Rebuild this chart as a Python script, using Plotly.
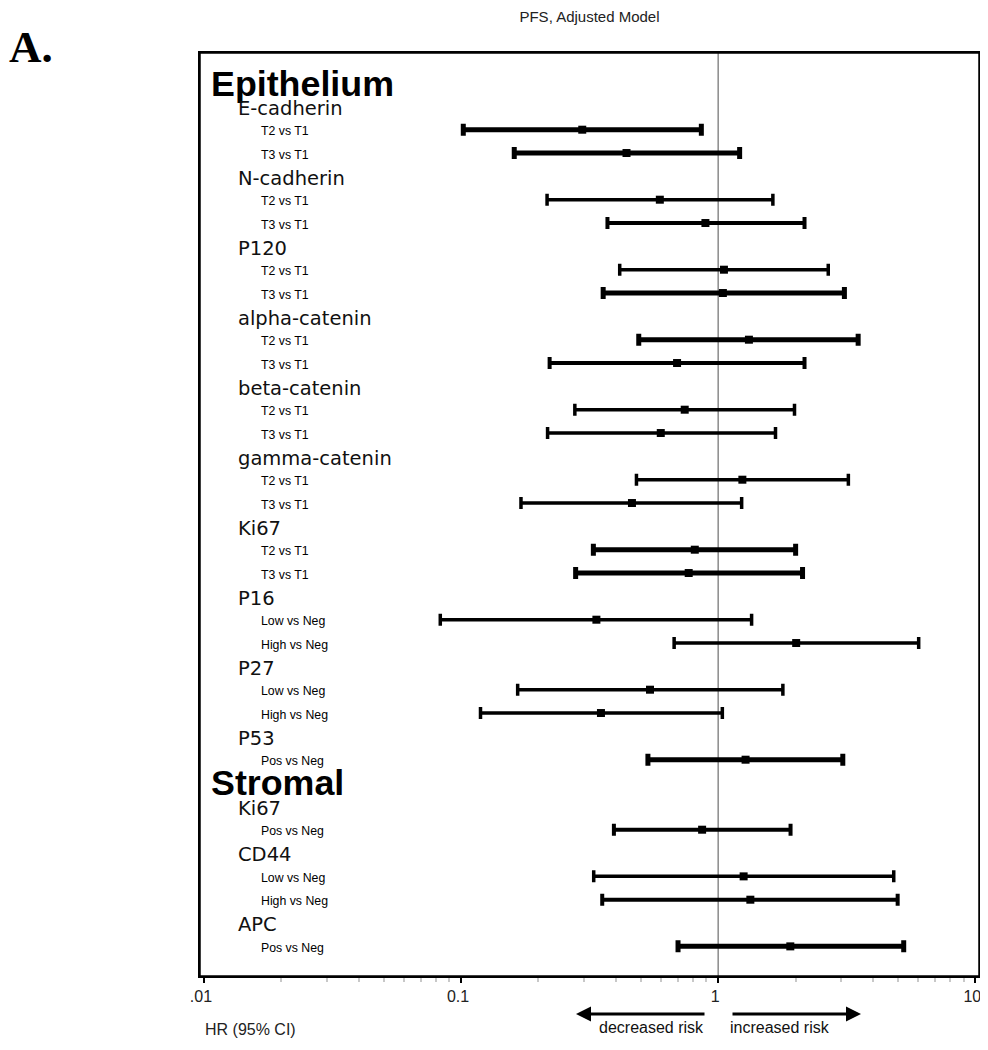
import plotly.graph_objects as go

# ---------------- data ----------------
sections = ["Epithelium"] * 19 + ["Stromal"] * 4
markers = ["E-cadherin", "E-cadherin", "N-cadherin", "N-cadherin", "P120", "P120",
           "alpha-catenin", "alpha-catenin", "beta-catenin", "beta-catenin",
           "gamma-catenin", "gamma-catenin", "Ki67", "Ki67", "P16", "P16",
           "P27", "P27", "P53", "Ki67", "CD44", "CD44", "APC"]
comparisons = ["T2 vs T1", "T3 vs T1"] * 7 + ["Low vs Neg", "High vs Neg"] * 2 + \
              ["Pos vs Neg", "Pos vs Neg", "Low vs Neg", "High vs Neg", "Pos vs Neg"]
hr = [0.296, 0.440, 0.593, 0.892, 1.053, 1.043, 1.317, 0.692, 0.741, 0.598, 1.242, 0.462,
      0.811, 0.768, 0.336, 2.011, 0.543, 0.350, 1.278, 0.866, 1.256, 1.334, 1.908]
ci_low = [0.102, 0.161, 0.216, 0.371, 0.414, 0.357, 0.491, 0.221, 0.277, 0.217, 0.481, 0.171,
          0.327, 0.279, 0.083, 0.674, 0.166, 0.119, 0.533, 0.393, 0.328, 0.354, 0.698]
ci_high = [0.860, 1.212, 1.632, 2.167, 2.680, 3.097, 3.503, 2.167, 1.981, 1.671, 3.209, 1.234,
           2.001, 2.129, 1.349, 6.024, 1.785, 1.038, 3.053, 1.912, 4.818, 4.990, 5.268]
x_tickvals = [0.01, 0.1, 1, 10]
x_ticktext = [".01", "0.1", "1", "10"]

# ---------------- style ----------------
bar_widths = [5, 5, 3.5, 4, 3.5, 5, 5, 4, 3.5, 3.5, 3.5, 3.5,
              5, 5, 3.5, 3.5, 3.5, 3.5, 5, 4, 3.5, 4, 5]

# ---------------- row layout ----------------
rows, cat_rows, hdr_rows = [], [], []
r = 0
prev_sec, prev_mk = None, None
for s, m in zip(sections, markers):
    if s != prev_sec:
        if prev_sec is None:
            hdr_rows.append((s, r - 1.04))
        else:
            hdr_rows.append((s, r - 0.06))
            r += 1
        prev_mk = None
    if m != prev_mk:
        cat_rows.append((m, r))
        r += 1
    rows.append(r)
    r += 1
    prev_sec, prev_mk = s, m

fig = go.Figure()

# reference line at HR = 1
fig.add_trace(go.Scatter(x=[1, 1], y=[-3, 40], mode="lines",
                         line=dict(color="#8a8a8a", width=1.5),
                         hoverinfo="skip", showlegend=False))

for w in sorted(set(bar_widths)):
    idx = [i for i, bw in enumerate(bar_widths) if bw == w]
    fig.add_trace(go.Scatter(
        x=[hr[i] for i in idx],
        y=[rows[i] - 0.07 for i in idx],
        mode="markers",
        marker=dict(symbol="square", size=8, color="black"),
        error_x=dict(type="data", symmetric=False,
                     array=[ci_high[i] - hr[i] for i in idx],
                     arrayminus=[hr[i] - ci_low[i] for i in idx],
                     thickness=w, width=6, color="black"),
        showlegend=False,
        text=[f"{markers[i]} {comparisons[i]}" for i in idx],
    ))

# page offset of the figure inside the browser page (default body margin)
OFF = 8
FW, FH = 988 - OFF, 1050 - 2 * OFF
# plot-area edges in page pixels
PL, PT, PR, PB = 200, 53, 979, 976
PW, PH = PR - PL, PB - PT
def px(xp):
    return (xp - PL) / PW
def py(yp):
    return (PB - yp) / PH

annotations = []
for name, ry in hdr_rows:
    annotations.append(dict(x=px(209), y=ry, xref="paper", yref="y", text="<b>" + name + "</b>",
                            showarrow=False, xanchor="left", yanchor="middle",
                            font=dict(family="Liberation Sans", size=35.8, color="black")))
for name, ry in cat_rows:
    annotations.append(dict(x=px(236), y=ry, xref="paper", yref="y", text=name,
                            showarrow=False, xanchor="left", yanchor="middle",
                            font=dict(family="DejaVu Sans", size=19.5, color="#111")))
for comp, ry in zip(comparisons, rows):
    annotations.append(dict(x=px(259), y=ry, xref="paper", yref="y", text=comp,
                            showarrow=False, xanchor="left", yanchor="middle",
                            font=dict(family="Liberation Sans", size=12.3, color="black")))

# risk arrows and labels below the axis
annotations += [
    dict(x=px(576), y=py(1014), xref="paper", yref="paper",
         text="", showarrow=True, ax=130, ay=0, arrowhead=2, arrowsize=1,
         arrowwidth=3, arrowcolor="black"),
    dict(x=px(861), y=py(1014), xref="paper", yref="paper",
         text="", showarrow=True, ax=-130, ay=0, arrowhead=2, arrowsize=1,
         arrowwidth=3, arrowcolor="black"),
    dict(x=px(706), y=py(1028), xref="paper", yref="paper",
         text="decreased risk", showarrow=False, xanchor="right", yanchor="middle",
         font=dict(family="Liberation Sans", size=16, color="#111")),
    dict(x=px(728), y=py(1028), xref="paper", yref="paper",
         text="increased risk", showarrow=False, xanchor="left", yanchor="middle",
         font=dict(family="Liberation Sans", size=16, color="#111")),
    dict(x=px(203), y=py(1029), xref="paper", yref="paper",
         text="HR (95% CI)", showarrow=False, xanchor="left", yanchor="middle",
         font=dict(family="Liberation Sans", size=16, color="#222")),
    dict(x=px(OFF - 1), y=py(47), xref="paper", yref="paper", xanchor="left",
         yanchor="middle", text="<b>A.</b>", showarrow=False,
         font=dict(family="Liberation Serif", size=45, color="black")),
]

fig.update_layout(
    width=FW, height=FH,
    margin=dict(l=PL - OFF, r=FW - (PR - OFF), t=PT - OFF, b=FH - (PB - OFF)),
    paper_bgcolor="white", plot_bgcolor="white",
    title=dict(text="PFS, Adjusted Model", x=0.5, xref="paper", xanchor="center",
               y=1 - (17 - OFF) / FH, yref="container", yanchor="middle",
               font=dict(family="Liberation Sans", size=15, color="#222")),
    annotations=annotations,
    shapes=[dict(type="rect", xref="paper", yref="paper", x0=0, x1=1, y0=0, y1=1,
                 line=dict(color="black", width=1.5), fillcolor="rgba(0,0,0,0)",
                 layer="above")],
    xaxis=dict(type="log", range=[-2.0155, 1.0145], tickvals=x_tickvals, ticktext=x_ticktext,
               ticks="outside", ticklen=5, tickwidth=1.5, tickcolor="black",
               showgrid=False, zeroline=False, showline=True, mirror=True,
               linecolor="black", linewidth=1.5, automargin=False, ticklabelshift=-3,
               tickfont=dict(family="Liberation Sans", size=16, color="#222"),
               minor=dict(ticks="outside", ticklen=4, tickcolor="#c8c8c8",
                          tickvals=[m * 10 ** e for e in (-2, -1, 0) for m in range(2, 10)],
                          showgrid=False)),
    yaxis=dict(range=[37.2, -2.357], showticklabels=False, ticks="", showgrid=False,
               zeroline=False, showline=True, mirror=True, linecolor="black",
               linewidth=1.5, automargin=False),
    showlegend=False,
)

fig.write_html("out.html")
